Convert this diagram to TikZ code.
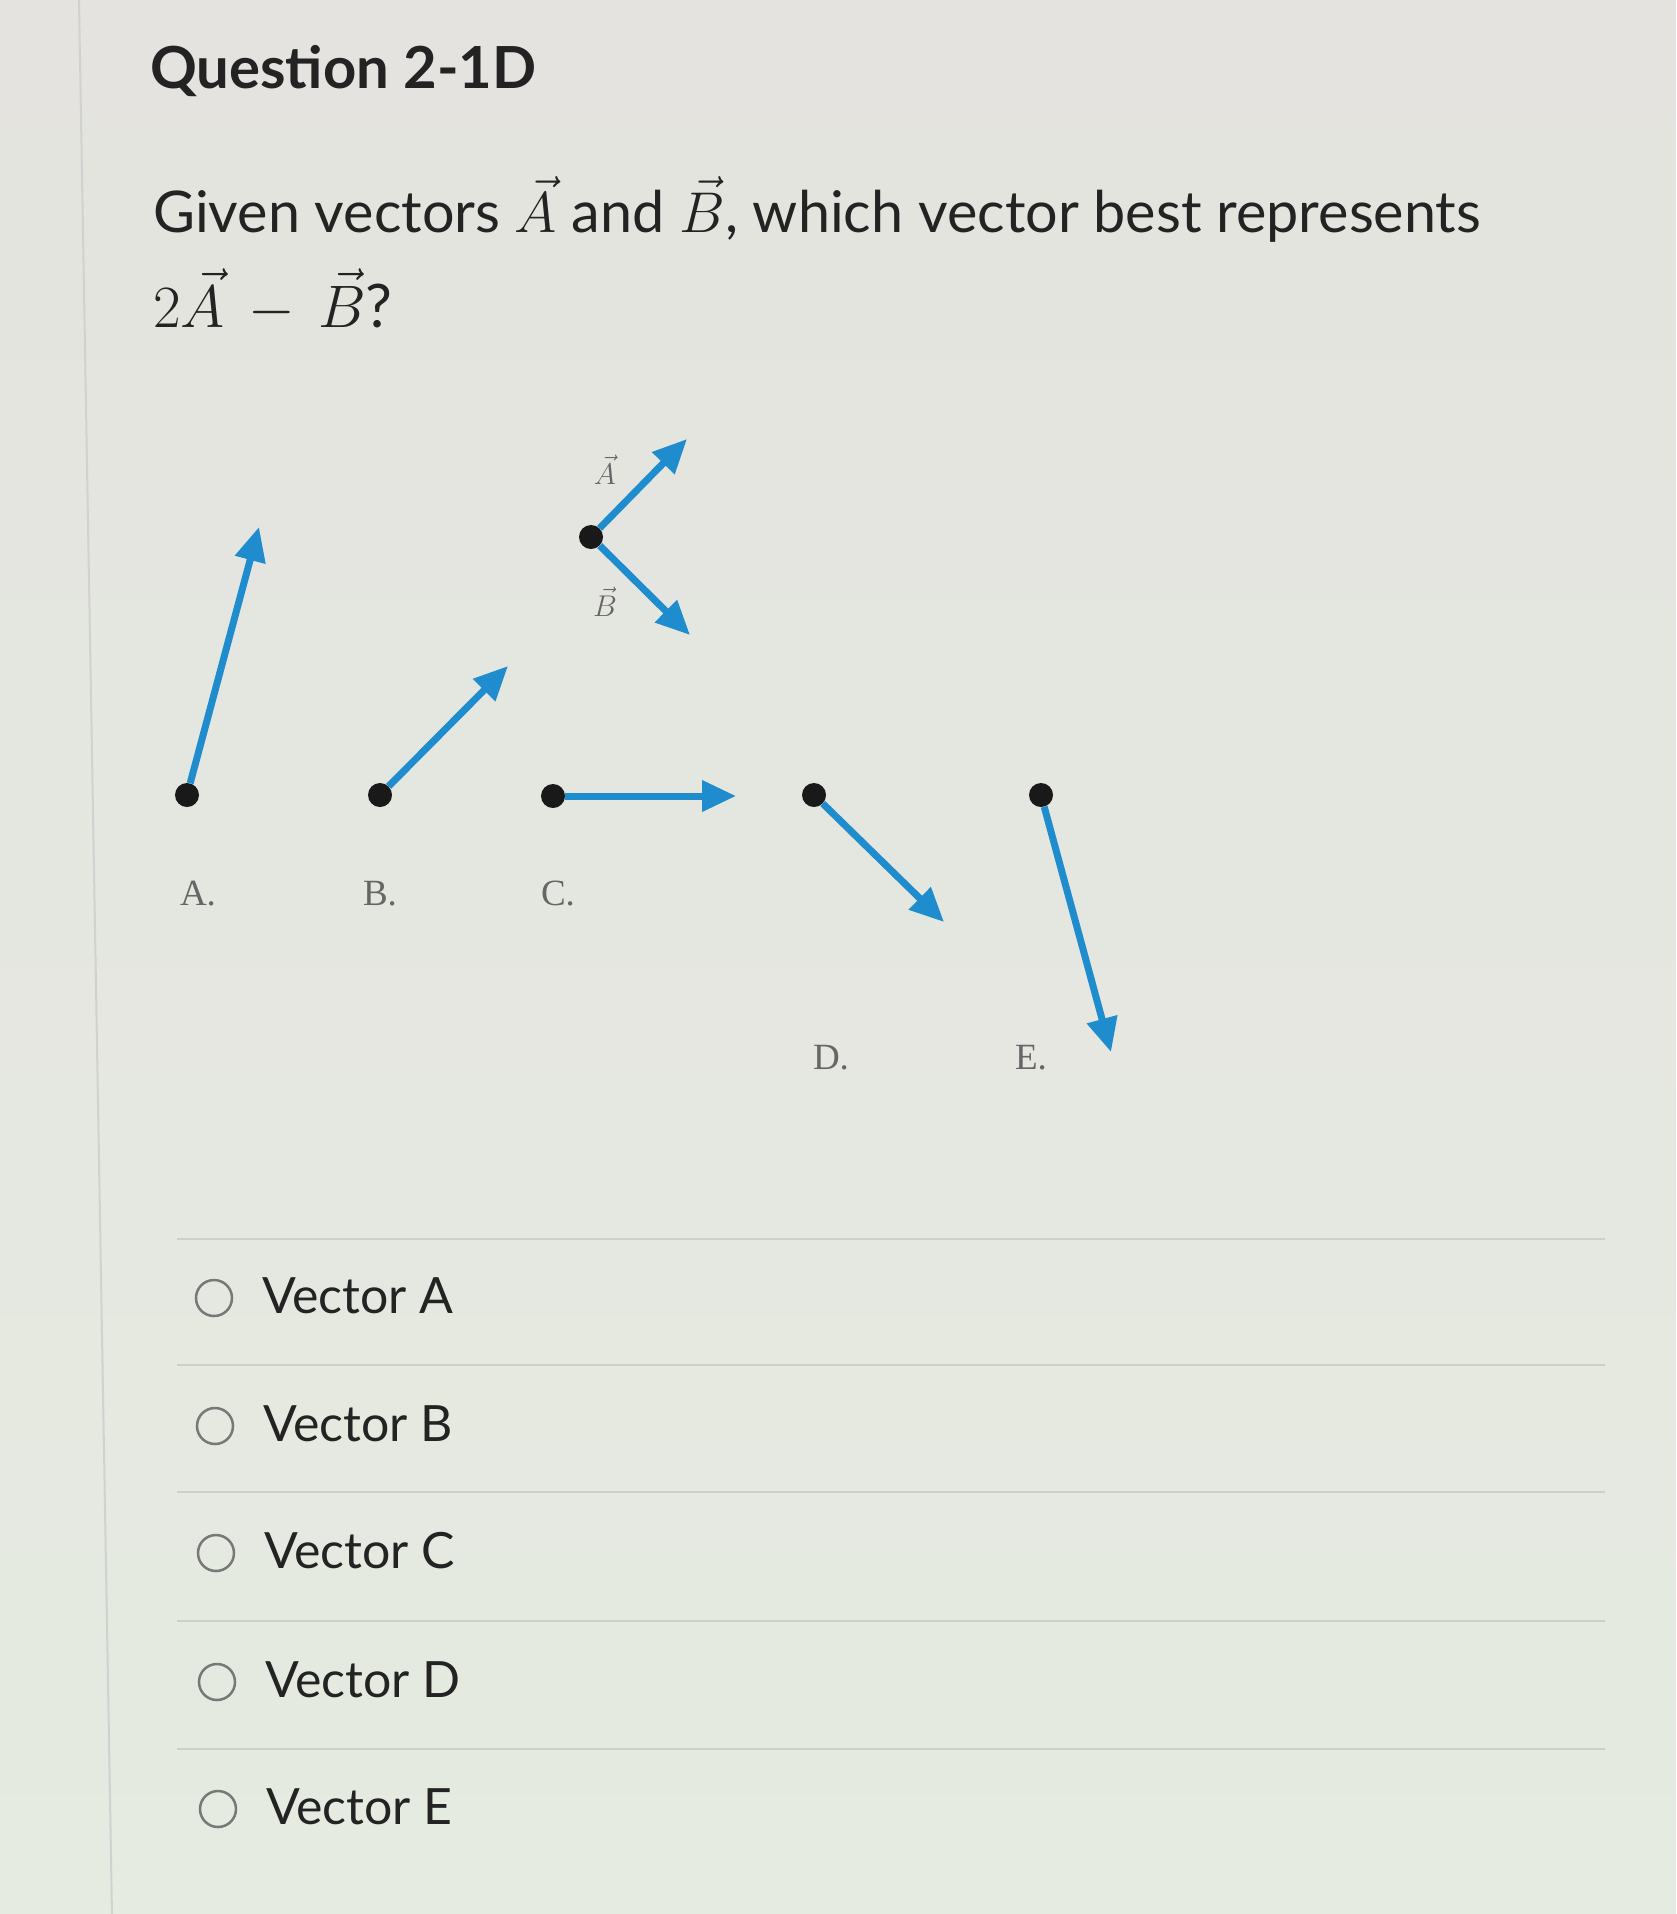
\RequirePackage{fix-cm}
\documentclass[tikz,border=0pt]{standalone}
\usepackage{fontspec}
\setmainfont{Lato}
\newfontfamily\labfont{Liberation Serif}
\usetikzlibrary{arrows.meta}
\definecolor{bgtop}{RGB}{228,227,223}
\definecolor{bgbot}{RGB}{229,235,225}
\definecolor{vecblue}{RGB}{30,140,205}
\definecolor{txt}{RGB}{35,35,35}
\definecolor{sepc}{RGB}{205,208,200}
\definecolor{radio}{RGB}{120,120,120}
\begin{document}
\begin{tikzpicture}[x=1pt,y=-1pt,
  vec/.style={line width=7pt,draw=vecblue,-{Triangle[length=34pt,width=30pt]}},
  tail/.style={circle,fill=black!90,inner sep=0pt,minimum size=24pt},
  lab/.style={font=\labfont\fontsize{37}{40}\selectfont,text=black!60,anchor=base,inner sep=0pt},
  veclab/.style={font=\fontsize{30}{36}\selectfont,text=black!60,inner sep=0pt},
  opt/.style={anchor=base west,font=\fontsize{50}{60}\selectfont,text=txt,inner sep=0pt},
  radiob/.style={circle,draw=radio,line width=2.5pt,minimum size=36pt,inner sep=0pt},
  sepline/.style={draw=sepc,line width=1.5pt},
  qtext/.style={anchor=base west,inner sep=0pt,text=txt}]

\fill[top color=bgtop,bottom color=bgbot] (0,0) rectangle (1676,1914);
\useasboundingbox (0,0) rectangle (1676,1914);
\draw[line width=2pt,draw=black!18] (79,0) -- (112,1914);

% question text
\node[qtext,font=\bfseries\fontsize{58}{70}\selectfont] (title) at (150,88) {Question 2-1D};
\node[qtext,font=\fontsize{57.5}{70}\selectfont] (q1) at (153,232) {Given vectors $\vec{A}$ and $\vec{B}$, which vector best represents};
\node[qtext,font=\fontsize{60}{70}\selectfont] (q2) at (153,327) {$2\vec{A}\,-\,\vec{B}$?};

% given vectors
\node[tail] (o) at (591,537) {};
\coordinate (tA) at (687,439);
\coordinate (tB) at (690,635);
\draw[vec] (o) -- (tA);
\draw[vec] (o) -- (tB);
\node[veclab] (lA) at (605,470) {$\vec{A}$};
\node[veclab] (lB) at (605,602) {$\vec{B}$};

% answer vectors
\node[tail] (dA) at (187,795) {};
\coordinate (eA) at (259,527);
\draw[vec] (dA) -- (eA);
\node[tail] (dB) at (380,795) {};
\coordinate (eB) at (508,666);
\draw[vec] (dB) -- (eB);
\node[tail] (dC) at (553,796) {};
\coordinate (eC) at (736,796);
\draw[vec] (dC) -- (eC);
\node[tail] (dD) at (814,795) {};
\coordinate (eD) at (944,922);
\draw[vec] (dD) -- (eD);
\node[tail] (dE) at (1041,795) {};
\coordinate (eE) at (1111,1052);
\draw[vec] (dE) -- (eE);

\node[lab] (nA) at (198,905) {A.};
\node[lab] (nB) at (380,905) {B.};
\node[lab] (nC) at (558,905) {C.};
\node[lab] (nD) at (831,1069) {D.};
\node[lab] (nE) at (1031,1069) {E.};

% options
\foreach \y in {1239,1365,1492,1621,1749} \draw[sepline] (177,\y) -- (1605,\y);
\foreach \l/\y/\x in {A/1298/214,B/1426/215,C/1553/216,D/1682/217,E/1809/218} {
  \node[radiob] (r\l) at (\x,\y) {};
  \node[opt] (o\l) at (\x+48,\y+15) {Vector \l};
}
\end{tikzpicture}
\end{document}
